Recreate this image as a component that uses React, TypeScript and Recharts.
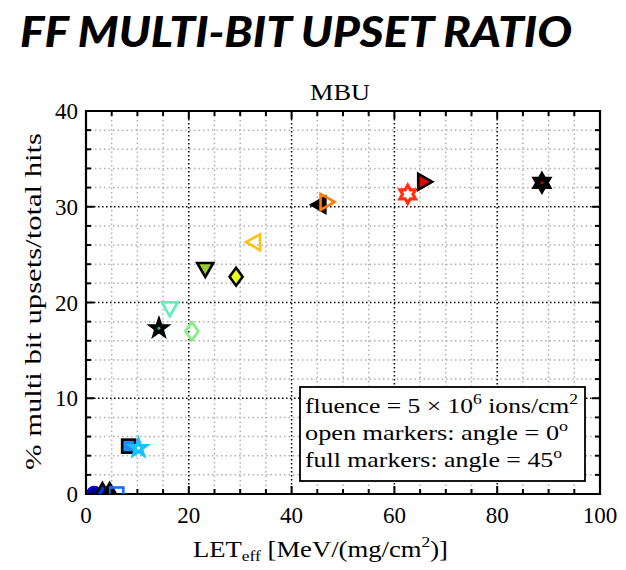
import React from "react";
import {
  ScatterChart,
  Scatter,
  XAxis,
  YAxis,
  CartesianGrid,
  ReferenceArea,
} from "recharts";

// LET_eff [MeV/(mg/cm2)] and MBU ratio [%] for each ion / angle
const LET = [1.6, 3.2, 4.6, 6.0, 8.3, 10.2, 14.2, 16.3, 20.6, 23.2, 29.2, 32.7, 45.4, 46.8, 62.6, 65.8, 88.7];
const MBU = [0, 0.3, 0.3, 0, 5.0, 4.8, 17.3, 19.4, 17.0, 23.5, 22.7, 26.3, 30.2, 30.5, 31.3, 32.6, 32.5];

const X_TICKS = [0, 5, 10, 15, 20, 25, 30, 35, 40, 45, 50, 55, 60, 65, 70, 75, 80, 85, 90, 95, 100];
const Y_TICKS = [0, 2, 4, 6, 8, 10, 12, 14, 16, 18, 20, 22, 24, 26, 28, 30, 32, 34, 36, 38, 40];
const X_LABELED = [0, 20, 40, 60, 80, 100];
const Y_LABELED = [0, 10, 20, 30, 40];
const X_MAJOR_GRID = [20, 40, 60, 80];
const Y_MAJOR_GRID = [10, 20, 30];
const X_MINOR_GRID = [5, 10, 15, 25, 30, 35, 45, 50, 55, 65, 70, 75, 85, 90, 95];
const Y_MINOR_GRID = [2, 4, 6, 8, 12, 14, 16, 18, 22, 24, 26, 28, 32, 34, 36, 38];

type Spec = { shape: string; fill: string; stroke: string; dot?: string };

const MARKERS: Spec[] = [
  { shape: "circle", fill: "#00008b", stroke: "#0000e0" },
  { shape: "up", fill: "#0033ff", stroke: "#000" },
  { shape: "up", fill: "#000", stroke: "#000" },
  { shape: "square", fill: "none", stroke: "#1a6bff" },
  { shape: "square", fill: "#1a8cff", stroke: "#000" },
  { shape: "star", fill: "#12c4ff", stroke: "#12c4ff", dot: "#fff" },
  { shape: "star", fill: "#000", stroke: "#000", dot: "#10c0b0" },
  { shape: "down", fill: "none", stroke: "#5cf0b8" },
  { shape: "diamond", fill: "none", stroke: "#80f080" },
  { shape: "down", fill: "#9acd32", stroke: "#000" },
  { shape: "diamond", fill: "#e8ff1a", stroke: "#000" },
  { shape: "left", fill: "none", stroke: "#ffc20e" },
  { shape: "left", fill: "#000", stroke: "#000" },
  { shape: "right", fill: "none", stroke: "#ff7a00" },
  { shape: "hex", fill: "none", stroke: "#ff3010" },
  { shape: "right", fill: "#e00000", stroke: "#000" },
  { shape: "hex", fill: "#000", stroke: "#000", dot: "#c00000" },
];

const PLOT_LEFT = 86;
const PLOT_RIGHT = 600;
const PLOT_TOP = 111;
const PLOT_BOTTOM = 494;
const TICK_MARGIN = 10;
const FONT = "'Liberation Serif', 'Times New Roman', serif";

function poly(pts: number[][]) {
  return pts.map((p) => p.join(",")).join(" ");
}

function starPts(cx: number, cy: number, n: number, R: number, r: number) {
  const pts: number[][] = [];
  for (let i = 0; i < n * 2; i++) {
    const a = (-90 + (i * 180) / n) * (Math.PI / 180);
    const rad = i % 2 === 0 ? R : r;
    pts.push([cx + rad * Math.cos(a), cy + rad * Math.sin(a)]);
  }
  return pts;
}

function Marker({ cx, cy, spec }: { cx: number; cy: number; spec: Spec }) {
  const sw = 2.6;
  const s = 8;
  const common = { fill: spec.fill, stroke: spec.stroke, strokeWidth: sw, strokeLinejoin: "miter" as const };
  let el: React.ReactNode = null;
  switch (spec.shape) {
    case "circle":
      el = <circle cx={cx} cy={cy} r={7} {...common} />;
      break;
    case "square":
      el = <rect x={cx - 6.5} y={cy - 6.5} width={13} height={13} {...common} />;
      break;
    case "up":
      el = <polygon points={poly([[cx, cy - s], [cx + s, cy + s * 0.75], [cx - s, cy + s * 0.75]])} {...common} />;
      break;
    case "down":
      el = <polygon points={poly([[cx, cy + s], [cx + s, cy - s * 0.75], [cx - s, cy - s * 0.75]])} {...common} />;
      break;
    case "left":
      el = <polygon points={poly([[cx - s, cy], [cx + s * 0.75, cy - s], [cx + s * 0.75, cy + s]])} {...common} />;
      break;
    case "right":
      el = <polygon points={poly([[cx + s, cy], [cx - s * 0.75, cy - s], [cx - s * 0.75, cy + s]])} {...common} />;
      break;
    case "diamond":
      el = <polygon points={poly([[cx, cy - 9], [cx + 6.5, cy], [cx, cy + 9], [cx - 6.5, cy]])} {...common} />;
      break;
    case "star":
      el = <polygon points={poly(starPts(cx, cy, 5, 11, 4.4))} {...common} strokeWidth={1.5} />;
      break;
    case "hex":
      el = <polygon points={poly(starPts(cx, cy, 6, 9, 5.2))} {...common} strokeWidth={3.2} />;
      break;
  }
  return (
    <g>
      {el}
      {spec.dot && <circle cx={cx} cy={cy} r={1.5} fill={spec.dot} />}
    </g>
  );
}

function XTick(props: any) {
  const { x, y, payload } = props;
  const v = payload.value;
  const major = X_LABELED.includes(v);
  const len = major ? 8 : 5;
  const y0 = y - TICK_MARGIN;
  return (
    <g>
      <line x1={x} x2={x} y1={y0} y2={y0 - len} stroke="#000" strokeWidth={2} />
      <line x1={x} x2={x} y1={PLOT_TOP} y2={PLOT_TOP + len} stroke="#000" strokeWidth={2} />
      {major && (
        <text x={x} y={y0 + 29} textAnchor="middle" fontFamily={FONT} fontSize={23} fill="#000">
          {v}
        </text>
      )}
    </g>
  );
}

function YTick(props: any) {
  const { x, y, payload } = props;
  const v = payload.value;
  const major = Y_LABELED.includes(v);
  const len = major ? 8 : 5;
  const x0 = x + TICK_MARGIN;
  return (
    <g>
      <line x1={x0} x2={x0 + len} y1={y} y2={y} stroke="#000" strokeWidth={2} />
      <line x1={PLOT_RIGHT} x2={PLOT_RIGHT - len} y1={y} y2={y} stroke="#000" strokeWidth={2} />
      {major && (
        <text x={x0 - 8} y={y + 8} textAnchor="end" fontFamily={FONT} fontSize={23} fill="#000">
          {v}
        </text>
      )}
    </g>
  );
}

export default function App() {
  return (
    <div style={{ position: "absolute", left: 0, top: 0, width: 626, height: 570, background: "#fff" }}>
      <ScatterChart
        width={626}
        height={570}
        margin={{ top: PLOT_TOP, right: 626 - PLOT_RIGHT, left: 0, bottom: 0 }}
      >
        <CartesianGrid
          verticalValues={X_MINOR_GRID}
          horizontalValues={Y_MINOR_GRID}
          stroke="#b0b0b0"
          strokeDasharray="1.5 3"
          strokeWidth={1.5}
        />
        <CartesianGrid
          verticalValues={X_MAJOR_GRID}
          horizontalValues={Y_MAJOR_GRID}
          stroke="#000"
          strokeDasharray="1.5 2.5"
          strokeWidth={1.5}
        />
        <XAxis
          type="number"
          dataKey="x"
          domain={[0, 100]}
          ticks={X_TICKS}
          interval={0}
          height={570 - PLOT_BOTTOM}
          axisLine={false}
          tickLine={false}
          tickSize={0}
          tickMargin={TICK_MARGIN}
          tick={<XTick />}
          allowDataOverflow
        />
        <YAxis
          type="number"
          dataKey="y"
          domain={[0, 40]}
          ticks={Y_TICKS}
          interval={0}
          width={PLOT_LEFT}
          axisLine={false}
          tickLine={false}
          tickSize={0}
          tickMargin={TICK_MARGIN}
          tick={<YTick />}
          allowDataOverflow
        />
        <ReferenceArea x1={0} x2={100} y1={0} y2={40} fill="none" stroke="#000" strokeWidth={2.2} ifOverflow="visible" />
        {LET.map((x, i) => (
          <Scatter
            key={i}
            data={[{ x, y: MBU[i] }]}
            isAnimationActive={false}
            shape={(p: any) => <Marker cx={p.cx} cy={p.cy} spec={MARKERS[i]} />}
          />
        ))}
      </ScatterChart>
      <svg width={626} height={570} style={{ position: "absolute", left: 0, top: 0, pointerEvents: "none" }}>
        <text
          x={20}
          y={47}
          fontFamily="Lato, 'Open Sans', sans-serif"
          fontWeight={900}
          fontStyle="italic"
          fontSize={42}
          textLength={552}
          lengthAdjust="spacingAndGlyphs"
          fill="#000"
        >
          FF MULTI-BIT UPSET RATIO
        </text>
        <text
          x={310}
          y={100}
          fontFamily={FONT}
          fontSize={24}
          textLength={60}
          lengthAdjust="spacingAndGlyphs"
          fill="#000"
        >
          MBU
        </text>
        <text
          x={193}
          y={557}
          fontFamily={FONT}
          fontSize={23}
          textLength={255}
          lengthAdjust="spacingAndGlyphs"
          fill="#000"
        >
          LET
          <tspan fontSize={15} dy={4}>eff</tspan>
          <tspan dy={-4}> [MeV/(mg/cm</tspan>
          <tspan fontSize={15} dy={-10}>2</tspan>
          <tspan dy={10}>)]</tspan>
        </text>
        <text
          x={0}
          y={0}
          transform="translate(41, 470) rotate(-90)"
          fontFamily={FONT}
          fontSize={24}
          textLength={337}
          lengthAdjust="spacingAndGlyphs"
          fill="#000"
        >
          % multi bit upsets/total hits
        </text>
        <rect x={300} y={387} width={285} height={94} fill="#fff" stroke="#000" strokeWidth={1.8} />
        <text x={305} y={413} fontFamily={FONT} fontSize={22} textLength={273} lengthAdjust="spacingAndGlyphs" fill="#000">
          fluence = 5 × 10
          <tspan fontSize={15} dy={-9}>6</tspan>
          <tspan dy={9}> ions/cm</tspan>
          <tspan fontSize={15} dy={-9}>2</tspan>
        </text>
        <text x={305} y={440} fontFamily={FONT} fontSize={22} textLength={263} lengthAdjust="spacingAndGlyphs" fill="#000">
          open markers: angle = 0
          <tspan fontSize={15} dy={-9}>o</tspan>
        </text>
        <text x={305} y={467} fontFamily={FONT} fontSize={22} textLength={257} lengthAdjust="spacingAndGlyphs" fill="#000">
          full markers: angle = 45
          <tspan fontSize={15} dy={-9}>o</tspan>
        </text>
      </svg>
    </div>
  );
}
